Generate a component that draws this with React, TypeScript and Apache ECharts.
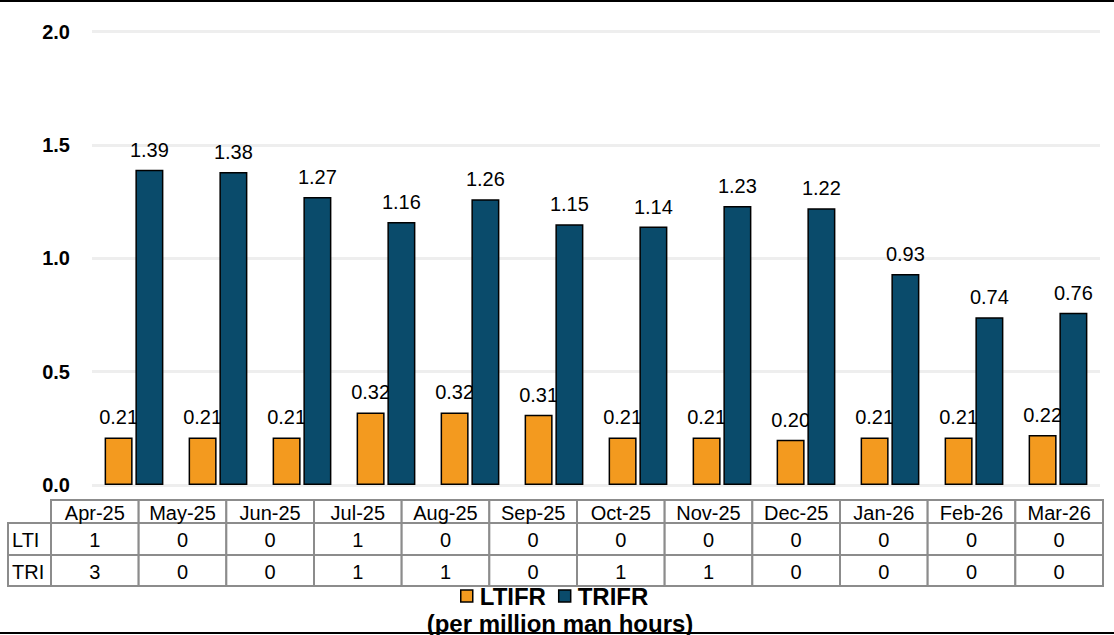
import React, { useEffect, useRef } from "react";
import * as echarts from "echarts";

const categories = ["Apr-25", "May-25", "Jun-25", "Jul-25", "Aug-25", "Sep-25", "Oct-25", "Nov-25", "Dec-25", "Jan-26", "Feb-26", "Mar-26"];
const ltifr = [0.21, 0.21, 0.21, 0.32, 0.32, 0.31, 0.21, 0.21, 0.20, 0.21, 0.21, 0.22];
const trifr = [1.39, 1.38, 1.27, 1.16, 1.26, 1.15, 1.14, 1.23, 1.22, 0.93, 0.74, 0.76];
const rowLabels = ["LTI", "TRI"];
const ltiCounts = [1, 0, 0, 1, 0, 0, 0, 0, 0, 0, 0, 0];
const triCounts = [3, 0, 0, 1, 1, 0, 1, 1, 0, 0, 0, 0];
const seriesNames = ["LTIFR", "TRIFR"];
const subtitle = "(per million man hours)";

const FONT = "'Liberation Sans', Arial, sans-serif";
const ORANGE = "#F39A1F";
const BLUE = "#0A4B6B";
const GRID_GRAY = "#EEEEEE";
const TABLE_GRAY = "#8C8C8C";

function buildTable(): any[] {
  const els: any[] = [];
  const tableLeft = 51;
  const colW = 1052 / categories.length;
  const labelLeft = 8;
  const rowTops = [500, 523, 555, 586];
  const rows = [ltiCounts, triCounts];
  const font = `20px ${FONT}`;
  categories.forEach((c, i) => {
    const x = tableLeft + i * colW;
    els.push({
      type: "rect",
      shape: { x, y: rowTops[0], width: colW, height: rowTops[1] - rowTops[0] },
      style: { fill: "#fff", stroke: TABLE_GRAY, lineWidth: 2 },
      z: 10,
    });
    els.push({
      type: "text",
      x: x + colW / 2,
      y: (rowTops[0] + rowTops[1]) / 2 + 1,
      style: { text: c, fill: "#000", font, align: "center", verticalAlign: "middle" },
      z: 11,
    });
  });
  rows.forEach((vals, r) => {
    const y0 = rowTops[r + 1];
    const h = rowTops[r + 2] - y0;
    els.push({
      type: "rect",
      shape: { x: labelLeft, y: y0, width: tableLeft - labelLeft, height: h },
      style: { fill: "#fff", stroke: TABLE_GRAY, lineWidth: 2 },
      z: 10,
    });
    els.push({
      type: "text",
      x: labelLeft + 4,
      y: y0 + h / 2 + 1,
      style: { text: rowLabels[r], fill: "#000", font, align: "left", verticalAlign: "middle" },
      z: 11,
    });
    vals.forEach((v, i) => {
      const x = tableLeft + i * colW;
      els.push({
        type: "rect",
        shape: { x, y: y0, width: colW, height: h },
        style: { fill: "#fff", stroke: TABLE_GRAY, lineWidth: 2 },
        z: 10,
      });
      els.push({
        type: "text",
        x: x + colW / 2,
        y: y0 + h / 2 + 1,
        style: { text: String(v), fill: "#000", font, align: "center", verticalAlign: "middle" },
        z: 11,
      });
    });
  });
  return els;
}

export default function App() {
  const ref = useRef<HTMLDivElement>(null);
  useEffect(() => {
    if (!ref.current) return;
    const chart = echarts.init(ref.current, null, { renderer: "svg" });
    const labelCommon = {
      show: true,
      position: "top" as const,
      distance: 10,
      color: "#000",
      fontSize: 20,
      fontFamily: FONT,
      formatter: (p: any) => Number(p.value).toFixed(2),
    };
    chart.setOption({
      animation: false,
      backgroundColor: "#fff",
      grid: { left: 92, right: 14, top: 31.5, bottom: 150, containLabel: false },
      legend: {
        data: seriesNames,
        left: 460,
        top: 584,
        padding: 0,
        icon: "rect",
        itemWidth: 12,
        itemHeight: 12,
        itemGap: 12,
        itemStyle: { borderColor: "#000", borderWidth: 1.5 },
        textStyle: {
          fontSize: 24,
          fontWeight: "bold",
          color: "#000",
          fontFamily: FONT,
          lineHeight: 18,
          padding: [0, 0, 0, 2],
        },
      },
      xAxis: {
        type: "category",
        data: categories,
        axisLine: { show: false },
        axisTick: { show: false },
        axisLabel: { show: false },
      },
      yAxis: {
        type: "value",
        min: 0,
        max: 2,
        interval: 0.5,
        axisLine: { show: false },
        axisTick: { show: false },
        axisLabel: {
          formatter: (v: number) => v.toFixed(1),
          fontSize: 20,
          fontWeight: "bold",
          color: "#000",
          fontFamily: FONT,
          margin: 22,
        },
        splitLine: { lineStyle: { color: GRID_GRAY, width: 3 } },
      },
      series: [
        {
          name: seriesNames[0],
          type: "bar",
          data: ltifr,
          barWidth: 28,
          barGap: "10%",
          z: 2,
          itemStyle: { color: ORANGE, borderColor: "#000", borderWidth: 1.5 },
          label: labelCommon,
        },
        {
          name: seriesNames[1],
          type: "bar",
          data: trifr,
          barWidth: 28,
          barGap: "10%",
          z: 3,
          itemStyle: { color: BLUE, borderColor: "#000", borderWidth: 1.5 },
          label: labelCommon,
        },
      ],
      graphic: [
        ...buildTable(),
        {
          type: "text",
          x: 560,
          y: 623,
          style: { text: subtitle, fill: "#000", font: `bold 24px ${FONT}`, align: "center", verticalAlign: "middle", lineHeight: 18 },
          z: 11,
        },
        { type: "line", shape: { x1: 0, y1: 1, x2: 1114, y2: 1 }, style: { stroke: "#000", lineWidth: 2 }, z: 20 },
        { type: "line", shape: { x1: 0, y1: 633, x2: 1114, y2: 633 }, style: { stroke: "#000", lineWidth: 2 }, z: 20 },
      ],
    });
    return () => chart.dispose();
  }, []);
  return (
    <div
      ref={ref}
      style={{ position: "absolute", left: 0, top: 0, width: 1114, height: 635, background: "#fff" }}
    />
  );
}
